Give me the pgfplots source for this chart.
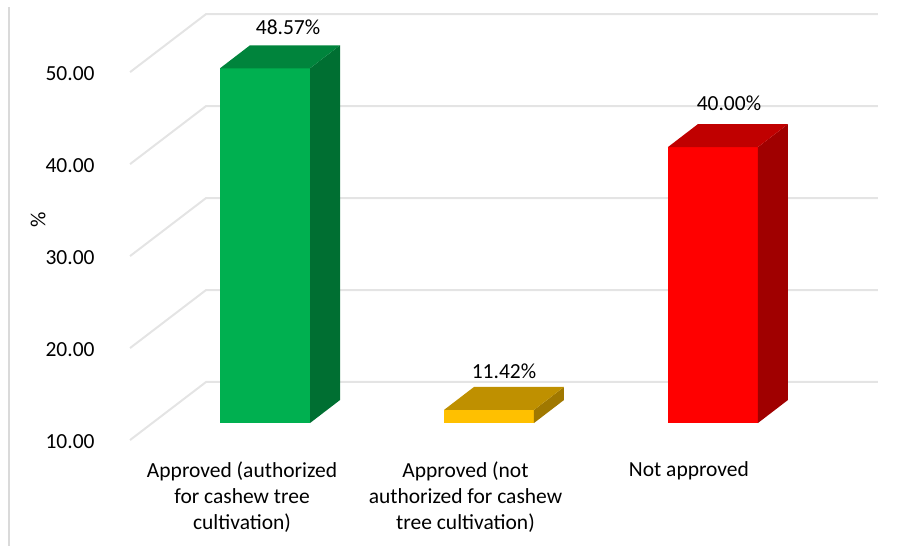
\documentclass[border=0pt]{standalone}
\usepackage{fontspec}
\setmainfont{Carlito}
\usepackage{pgfplots}
\pgfplotsset{compat=1.18}
\definecolor{gridgray}{HTML}{E4E4E4}
\definecolor{framegray}{HTML}{DADADA}
\definecolor{gfront}{HTML}{00B050}
\definecolor{gtop}{HTML}{00843C}
\definecolor{gside}{HTML}{006F32}
\definecolor{yfront}{HTML}{FFC000}
\definecolor{ytop}{HTML}{BF9000}
\definecolor{yside}{HTML}{A07800}
\definecolor{rfront}{HTML}{FF0000}
\definecolor{rtop}{HTML}{C00000}
\definecolor{rside}{HTML}{A00000}
\begin{document}
\begin{tikzpicture}
\begin{axis}[
    scale only axis,
    width=915pt, height=546pt,
    xmin=0, xmax=915,
    ymin=-3.37, ymax=55.98,
    clip=false,
    axis line style={draw=none},
    major tick length=0pt,
    font=\fontsize{21.5}{26}\selectfont,
    ytick={7.95,17.95,27.95,37.95,47.95},
    yticklabels={10.00,20.00,30.00,40.00,50.00},
    yticklabel style={anchor=east, xshift=98pt, text=black},
    xtick={242,465.5,689},
    xticklabels={
        {Approved (authorized\\for cashew tree\\cultivation)},
        {Approved (not\\authorized for cashew\\tree cultivation)},
        {Not approved}},
    xticklabel style={anchor=north, align=center, yshift=88pt, text=black},
    ylabel={\%},
    every axis y label/.style={at={(axis cs:38,32.1)}, rotate=90, anchor=center, text=black},
]
% frame line on the left
\addplot[framegray, line width=1.2pt] coordinates {(9,55.2) (9,-3.37)};
% walls and floor lines
\addplot[gridgray, line width=2pt] coordinates {(130,8.15) (206,14.46) (878,14.46)};
\addplot[gridgray, line width=2pt] coordinates {(130,18.15) (206,24.46) (878,24.46)};
\addplot[gridgray, line width=2pt] coordinates {(130,28.15) (206,34.46) (878,34.46)};
\addplot[gridgray, line width=2pt] coordinates {(130,38.15) (206,44.46) (878,44.46)};
\addplot[gridgray, line width=2pt] coordinates {(130,48.15) (206,54.46) (878,54.46)};
% approved, authorized: 48.57
\addplot[fill=gfront, draw=none] coordinates {(220,10) (310,10) (310,48.57) (220,48.57)} -- cycle;
\addplot[fill=gside, draw=none] coordinates {(310,10) (340,12.5) (340,51.07) (310,48.57)} -- cycle;
\addplot[fill=gtop, draw=none] coordinates {(220,48.57) (310,48.57) (340,51.07) (250,51.07)} -- cycle;
% approved, not authorized: 11.42
\addplot[fill=yfront, draw=none] coordinates {(444,10) (534,10) (534,11.42) (444,11.42)} -- cycle;
\addplot[fill=yside, draw=none] coordinates {(534,10) (564,12.5) (564,13.92) (534,11.42)} -- cycle;
\addplot[fill=ytop, draw=none] coordinates {(444,11.42) (534,11.42) (564,13.92) (474,13.92)} -- cycle;
% not approved: 40.00
\addplot[fill=rfront, draw=none] coordinates {(668,10) (758,10) (758,40) (668,40)} -- cycle;
\addplot[fill=rside, draw=none] coordinates {(758,10) (788,12.5) (788,42.5) (758,40)} -- cycle;
\addplot[fill=rtop, draw=none] coordinates {(668,40) (758,40) (788,42.5) (698,42.5)} -- cycle;
\node[text=black] at (axis cs:288,53.04) {48.57\%};
\node[text=black] at (axis cs:504,15.65) {11.42\%};
\node[text=black] at (axis cs:729,44.78) {40.00\%};
\end{axis}
\end{tikzpicture}
\end{document}
